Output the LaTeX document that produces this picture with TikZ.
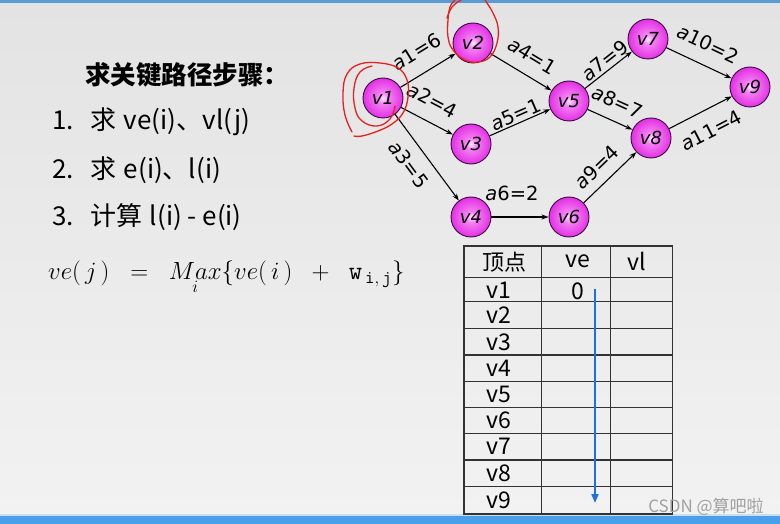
\documentclass[tikz,border=0pt]{standalone}
\usepackage{fontspec}
\setmainfont{Noto Sans CJK SC}
\newfontfamily\gfont{DejaVu Sans}
\usetikzlibrary{arrows.meta,calc}
\definecolor{bartop}{HTML}{5B9BD5}
\definecolor{barbot}{HTML}{4AA0E8}
\definecolor{barline}{HTML}{C8E0F4}
\definecolor{bgtop}{HTML}{E3E3E3}
\definecolor{bgbot}{HTML}{F2F2F2}
\definecolor{vborder}{HTML}{3A0840}
\definecolor{vcA}{HTML}{FDE8FD}
\definecolor{vcB}{HTML}{F480F4}
\definecolor{vcC}{HTML}{E22CE2}
\definecolor{vcD}{HTML}{C812C8}
\definecolor{arrowblue}{HTML}{1E6FE6}
\definecolor{scribble}{HTML}{E82020}
\definecolor{gridc}{HTML}{333333}
\definecolor{wmark}{HTML}{A0A0A0}
\pgfdeclareradialshading{vball}{\pgfpoint{0bp}{0bp}}{color(0bp)=(vcA); color(7bp)=(vcB); color(26bp)=(vcC); color(50bp)=(vcD)}
\tikzset{
  vnode/.style={circle, minimum size=40pt, inner sep=0pt, draw=vborder, line width=0.9pt, shading=vball, font=\gfont\itshape\fontsize{18}{18}\selectfont},
  edgearrow/.style={-{Stealth[length=7pt,width=5pt]}, line width=1.1pt},
  elabel/.style={font=\gfont\fontsize{19.5}{19.5}\selectfont, sloped, inner sep=2pt},
  redmark/.style={draw=scribble, line width=1.3pt, line cap=round, line join=round},
  steptext/.style={anchor=west, inner sep=0pt, font=\fontsize{26}{30}\selectfont},
  celltext/.style={inner sep=0pt, font=\fontsize{23}{26}\selectfont},
  gridline/.style={draw=gridc, line width=1.2pt},
  bluearrow/.style={draw=arrowblue, line width=2pt, -{Triangle[length=9pt,width=7pt]}}
}
\begin{document}
\begin{tikzpicture}[x=1pt,y=-1pt]
\useasboundingbox (0,0) rectangle (780,524);
% background
\shade[top color=bgtop, bottom color=bgbot] (0,0) rectangle (780,515);
\fill[bartop] (0,0) rectangle (780,3.5);
\fill[barline] (0,513.5) rectangle (780,515.5);
\fill[barbot] (0,515.5) rectangle (780,524);

% left text
\node[steptext, font=\fontsize{25.5}{30}\selectfont\bfseries] (title) at (85,75) {求关键路径步骤：};
\node[steptext] (s1) at (52,122) {1.\hspace{17pt}求\hspace{7pt}ve(i)、vl(j)};
\node[steptext] (s2) at (52,170) {2.\hspace{17pt}求\hspace{7pt}e(i)、l(i)};
\node[steptext] (s3) at (52,217) {3.\hspace{17pt}计算\hspace{7pt}l(i) - e(i)};
\node[anchor=west, inner sep=0pt] (formula) at (48,277) {\fontsize{26}{30}\selectfont $ve(\,j\,)\;\;=\;\;\mathop{Max}\limits_{i}\{ve(\,i\,)\;\;+\;\;\mathtt{w}_{\,\mathtt{i,\,j}}\}$};

% graph nodes
\node[vnode] (v1) at (383,98) {v1};
\node[vnode] (v2) at (473,43) {v2};
\node[vnode] (v3) at (471,144) {v3};
\node[vnode] (v4) at (471,217) {v4};
\node[vnode] (v5) at (569,101) {v5};
\node[vnode] (v6) at (569,217) {v6};
\node[vnode] (v7) at (648,39) {v7};
\node[vnode] (v8) at (651,138) {v8};
\node[vnode] (v9) at (750,87) {v9};

% edges
\draw[edgearrow] (v1) -- node[elabel,above=12pt,pos=0.5] {\textit{a}1=6} (v2);
\draw[edgearrow] (v1) -- node[elabel,above=11pt,pos=0.42] {\textit{a}2=4} (v3);
\draw[edgearrow] (v1) -- node[elabel,below=9pt,pos=0.45] {\textit{a}3=5} (v4);
\draw[edgearrow] (v2) -- node[elabel,above=10pt,pos=0.52] {\textit{a}4=1} (v5);
\draw[edgearrow] (v3) -- node[elabel,above=-1pt,pos=0.49] {\textit{a}5=1} (v5);
\draw[edgearrow] (v4) -- node[elabel,above=14pt,pos=0.36] {\textit{a}6=2} (v6);
\draw[edgearrow] (v5) -- node[elabel,above=0pt,pos=0.55] {\textit{a}7=9} (v7);
\draw[edgearrow] (v5) -- node[elabel,above=9pt,pos=0.49] {\textit{a}8=7} (v8);
\draw[edgearrow] (v6) -- node[elabel,above=7pt,pos=0.47] {\textit{a}9=4} (v8);
\draw[edgearrow] (v7) -- node[elabel,above=11pt,pos=0.5] {\textit{a}10=2} (v9);
\draw[edgearrow] (v8) -- node[elabel,below=11pt,pos=0.52] {\textit{a}11=4} (v9);

% red scribbles
\draw[redmark] plot[smooth, tension=0.7] coordinates {(352,132) (345,115) (343,93) (347,74) (360,64) (380,63) (398,68) (407,80) (408,97) (403,113) (392,124) (378,131) (362,136) (354,136)};
\draw[redmark] plot[smooth, tension=0.7] coordinates {(372,66) (360,72) (354,88) (355,108) (362,121) (377,126) (390,119) (395,106)};
\draw[redmark] plot[smooth, tension=0.7] coordinates {(455,0) (450,7) (448,20) (448,37) (453,50) (465,60) (478,62) (490,57) (497,43) (498,27) (493,13) (487,3) (485,0)};
\draw[redmark] plot[smooth, tension=0.7] coordinates {(447,18) (452,7) (461,0)};

% table
\draw[gridline] (464,246) rectangle (672.3,514);
\foreach \yy in {277.3,301.7,328.3,355,381.7,407.3,433.3,460,486.7} {
  \draw[gridline] (464,\yy) -- (672.3,\yy);
}
\draw[gridline] (541.7,246) -- (541.7,514);
\draw[gridline] (610.3,246) -- (610.3,514);
\node[celltext, font=\fontsize{22}{26}\selectfont] (h1) at (504,262) {顶点};
\node[celltext] (h2) at (578,261) {ve};
\node[celltext] (h3) at (637,261) {vl};
\node[celltext] (r1) at (499,290) {v1};
\node[celltext] (r2) at (499,315.5) {v2};
\node[celltext] (r3) at (499,342) {v3};
\node[celltext] (r4) at (499,368.5) {v4};
\node[celltext] (r5) at (499,394.5) {v5};
\node[celltext] (r6) at (499,420.5) {v6};
\node[celltext] (r7) at (499,446.5) {v7};
\node[celltext] (r8) at (499,473) {v8};
\node[celltext] (r9) at (499,500) {v9};
\node[celltext] (z1) at (578,291) {0};

% blue arrow
\coordinate (bs) at (595,289);
\coordinate (be) at (595,503);
\draw[bluearrow] (bs) -- (be);

% watermark
\node[inner sep=0pt, text=wmark, font=\fontsize{17}{19}\selectfont] (wm) at (706,507) {CSDN @算吧啦};
\end{tikzpicture}
\end{document}
